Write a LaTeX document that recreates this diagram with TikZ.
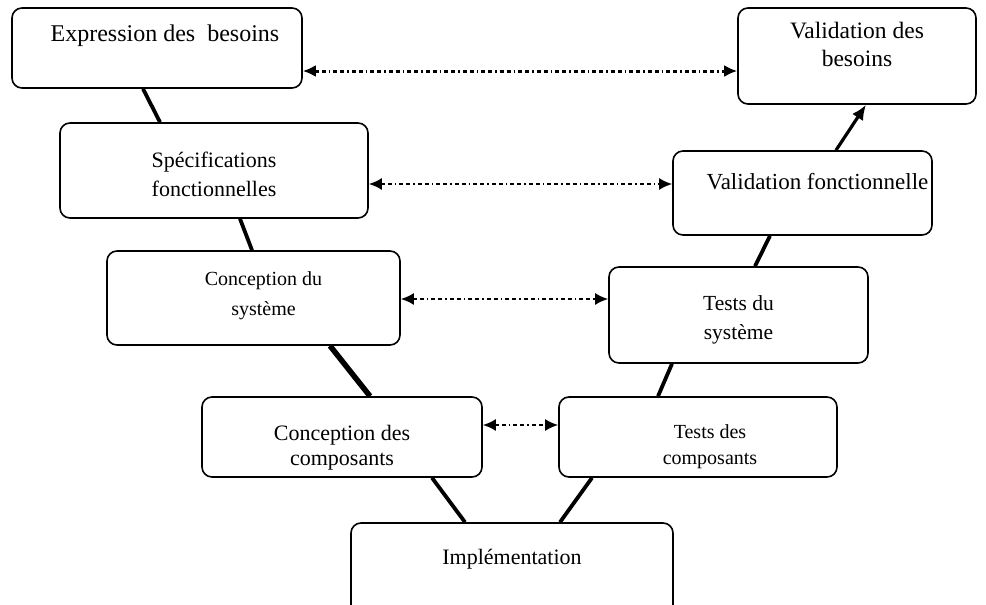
\documentclass[tikz,border=0pt]{standalone}
\usepackage{fontspec}
\setmainfont{Liberation Serif}
\usetikzlibrary{arrows.meta}

\begin{document}
\begin{tikzpicture}[x=1pt, y=-1pt, >={Latex[length=13pt,width=12pt]},
	boite/.style={draw, rounded corners=10pt, line width=1.6pt, inner sep=0pt},
	lien/.style={line width=3.8pt},
	renvoi/.style={<->, line width=2pt, dash pattern=on 4pt off 3pt on 4pt off 3pt on 1.5pt off 3pt},
	txt/.style={align=center, font=\fontsize{22}{29}\selectfont}]
	\useasboundingbox (0,0) rectangle (986,605);
	\clip (0,0) rectangle (986,605);
	
	\node[boite, minimum width=290, minimum height=80, label={[txt, font=\fontsize{24}{29}\selectfont, xshift=8, yshift=12]center:{Expression des \ besoins}}] (expr) at (157,48) {};
	\node[boite, minimum width=238, minimum height=96, label={[txt, font=\fontsize{23.5}{28}\selectfont, yshift=12]center:{Validation des\\besoins}}] (valb) at (857,56) {};
	\node[boite, minimum width=308, minimum height=95, label={[txt, yshift=-4]center:{Spécifications\\fonctionnelles}}] (spec) at (214,170.5) {};
	\node[boite, minimum width=259, minimum height=84, label={[txt, font=\fontsize{23}{29}\selectfont, xshift=15, yshift=11]center:{Validation fonctionnelle}}] (valf) at (802.5,193) {};
	\node[boite, minimum width=293, minimum height=94, label={[txt, font=\fontsize{20}{30}\selectfont, xshift=10, yshift=2]center:{Conception du\\système}}] (csys) at (253.5,298) {};
	\node[boite, minimum width=259, minimum height=96, label={[txt, font=\fontsize{21.5}{29}\selectfont, yshift=-5]center:{Tests du\\système}}] (tsys) at (738.5,315) {};
	\node[boite, minimum width=280, minimum height=80, label={[txt, font=\fontsize{22}{25}\selectfont, yshift=-11]center:{Conception des\\composants}}] (ccomp) at (342,437) {};
	\node[boite, minimum width=278, minimum height=80, label={[txt, font=\fontsize{20}{26}\selectfont, xshift=12, yshift=-10]center:{Tests des\\composants}}] (tcomp) at (698,437) {};
	\node[boite, minimum width=322, minimum height=100, label={[txt, yshift=14]center:{Implémentation}}] (impl) at (512,573) {};
	
	% branche descendante
	\draw[lien] ([xshift=-14]expr.south) -- ([xshift=-54]spec.north);
	\draw[lien] ([xshift=26]spec.south) -- ([xshift=-1.5]csys.north);
	\draw[lien, line width=5.5pt] ([xshift=76.5]csys.south) -- ([xshift=28]ccomp.north);
	\draw[lien] ([xshift=90]ccomp.south) -- ([xshift=-47]impl.north);
	% branche montante
	\draw[lien] ([xshift=-106]tcomp.south) -- ([xshift=48]impl.north);
	\draw[lien] ([xshift=-66.5]tsys.south) -- ([xshift=-40]tcomp.north);
	\draw[lien] ([xshift=-32.5]valf.south) -- ([xshift=16.5]tsys.north);
	\draw[lien, -{Latex[length=15pt,width=13pt]}, line width=3.2pt] ([xshift=33.5]valf.north) -- ([xshift=9]valb.south);
	
	% correspondances
	\draw[renvoi, line width=3pt] ([yshift=-23]expr.east) -- ([yshift=-23]expr.east -| valb.west);
	\draw[renvoi] ([yshift=-13.5]spec.east) -- ([yshift=-13.5]spec.east -| valf.west);
	\draw[renvoi] ([yshift=-1]csys.east) -- ([yshift=-1]csys.east -| tsys.west);
	\draw[renvoi] ([yshift=12]ccomp.east) -- ([yshift=12]ccomp.east -| tcomp.west);
	
\end{tikzpicture}
\end{document}
